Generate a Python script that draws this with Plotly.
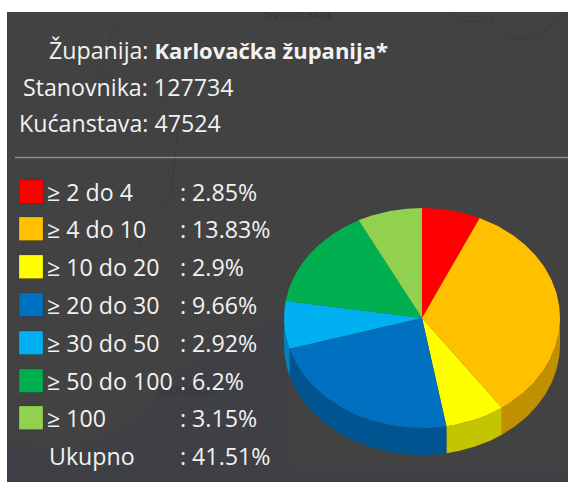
import numpy as np
import plotly.graph_objects as go

# ---- data ----
county = "Karlovačka županija*"
population = 127734
households = 47524
categories = ["≥ 2 do 4", "≥ 4 do 10", "≥ 10 do 20", "≥ 20 do 30", "≥ 30 do 50", "≥ 50 do 100", "≥ 100"]
values = [2.85, 13.83, 2.9, 9.66, 2.92, 6.2, 3.15]
total = 41.51
colors = ["#FF0000", "#FFC000", "#FFFF00", "#0070C0", "#00B0F0", "#00B050", "#92D050"]
side_colors = ["#C00000", "#C09000", "#C4C400", "#005490", "#0084B8", "#008040", "#6E9C3C"]
map_labels = ["Švicarska", "Monako"]

# ---- layout constants (pixels) ----
W, H = 568, 482
CX, CY, RX, RY, DEPTH = 422, 318, 138, 110, 27
FONT = "Open Sans"
TXT = "#F2F2F2"
SIZE = 23.2

fig = go.Figure()

# panel + faint background map
shapes = [
    dict(type="rect", x0=7, x1=W, y0=12, y1=H, fillcolor="#424242", line_width=0, layer="below"),
    dict(type="path", path="M 7 436 L 30 445 L 60 452 L 100 440 L 140 420 L 165 385 L 215 345 L 284 318 L 290 470 L 568 470 L 568 482 L 7 482 Z",
         fillcolor="#3F4045", line_width=0, layer="below"),
    dict(type="path", path="M 125 12 Q 105 40 105 62 Q 95 70 92 72 Q 150 90 180 110 Q 175 160 170 200 Q 135 215 140 250",
         line=dict(color="#3B3B3B", width=1), layer="below"),
    dict(type="path", path="M 450 12 Q 470 30 490 15 M 490 15 Q 500 50 540 35 L 568 12",
         line=dict(color="#3B3B3B", width=1), layer="below"),
    dict(type="line", x0=15, x1=W, y0=157.5, y1=157.5, line=dict(color="#8C8C8C", width=1.5)),
    dict(type="rect", x0=0, x1=W, y0=0, y1=12, fillcolor="white", line_width=0, layer="above"),
]

# faint map labels, behind everything else
fig.add_trace(go.Scatter(x=[296, 185], y=[15, 391], mode="text", text=map_labels,
                         textfont=dict(family="Liberation Sans", size=16, color="#383838"),
                         textposition="middle center", hoverinfo="skip", showlegend=False))

# pie geometry computed from the values
frac = np.array(values) / sum(values)
edges = np.concatenate([[0], np.cumsum(frac)]) * 2 * np.pi

def ex(a):
    return CX + RX * np.sin(a)

def ey(a):
    return CY - RY * np.cos(a)

# side walls: only the front half (90°..270°)
for i in range(len(values)):
    a0, a1 = max(edges[i], np.pi / 2), min(edges[i + 1], 3 * np.pi / 2)
    if a1 <= a0:
        continue
    t = np.linspace(a0, a1, 80)
    xs = np.concatenate([ex(t), ex(t[::-1])])
    ys = np.concatenate([ey(t), ey(t[::-1]) + DEPTH])
    fig.add_trace(go.Scatter(x=xs, y=ys, mode="lines", fill="toself", fillcolor=side_colors[i],
                             line=dict(width=0), hoverinfo="skip", showlegend=False))

# top faces
for i in range(len(values)):
    t = np.linspace(edges[i], edges[i + 1], 120)
    xs = np.concatenate([[CX], ex(t), [CX]])
    ys = np.concatenate([[CY], ey(t), [CY]])
    fig.add_trace(go.Scatter(x=xs, y=ys, mode="lines", fill="toself", fillcolor=colors[i],
                             line=dict(width=0), name=categories[i], hoverinfo="name", showlegend=False))

annotations = []

def text(x, y, s, size=SIZE, color=TXT):
    annotations.append(dict(x=x, y=y, xref="x", yref="y", text=s, showarrow=False, xanchor="left",
                            yanchor="middle", font=dict(family=FONT, size=size, color=color),
                            align="left", borderpad=0, borderwidth=0))

text(49, 50, f'Županija: <span style="font-size:22px"><b>{county}</b></span>')
text(23, 87, f"Stanovnika: {population}")
text(19, 123, f"Kućanstava: {households}")

rows_y = [192, 229, 267, 305, 343, 381, 418]
for yy, cat, val, col in zip(rows_y, categories, values, colors):
    shapes.append(dict(type="rect", x0=19, x1=43, y0=yy - 12, y1=yy + 11.5, fillcolor=col,
                       line=dict(color="rgba(0,0,0,0.15)", width=1)))
    text(47, yy, cat)
    text(180, yy, f": {val}%")
text(49, 456, "Ukupno")
text(180, 456, f": {total}%")

fig.update_layout(
    width=W, height=H, margin=dict(l=0, r=0, t=0, b=0),
    paper_bgcolor="white", plot_bgcolor="rgba(0,0,0,0)",
    xaxis=dict(range=[0, W], visible=False, fixedrange=True),
    yaxis=dict(range=[H, 0], visible=False, fixedrange=True),
    shapes=shapes, annotations=annotations, showlegend=False,
)
fig.write_html("out.html", config=dict(displayModeBar=False),
               post_script="document.body.style.margin='0';document.body.style.overflow='hidden';")
